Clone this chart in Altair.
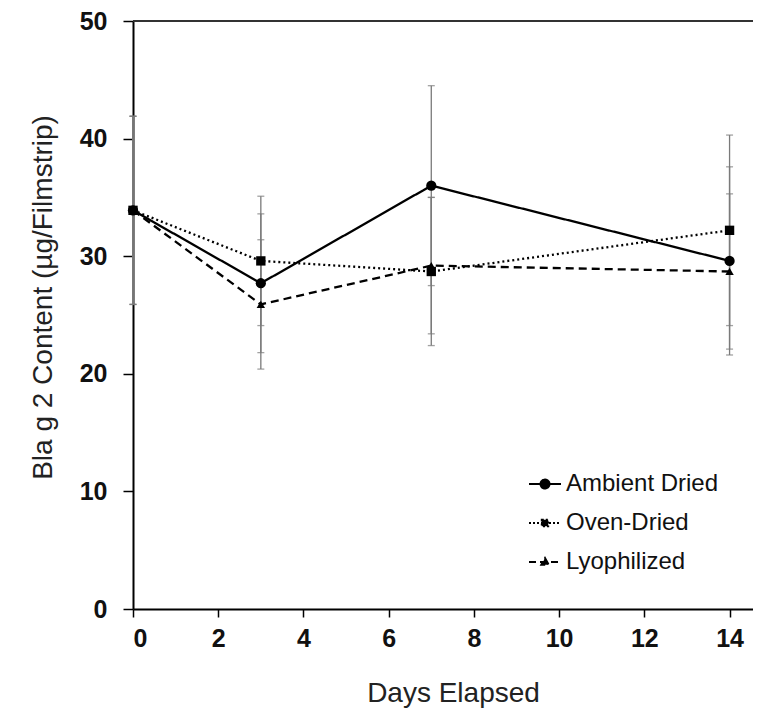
import altair as alt
import pandas as pd

days = [0, 3, 7, 14]
series_names = ["Ambient Dried", "Oven-Dried", "Lyophilized"]
ambient = [33.9, 27.7, 36.0, 29.6]
ambient_err = [8.0, 5.9, 8.5, 8.0]
oven = [33.9, 29.6, 28.7, 32.2]
oven_err = [8.0, 5.5, 6.3, 8.1]
lyo = [33.9, 25.9, 29.2, 28.7]
lyo_err = [8.0, 5.5, 5.8, 6.6]
draw_rank = [3, 1, 2]
x_ticks = [0, 2, 4, 6, 8, 10, 12, 14]
y_ticks = [0, 10, 20, 30, 40, 50]

rows = []
for name, vals, errs, rk in zip(series_names, [ambient, oven, lyo], [ambient_err, oven_err, lyo_err], draw_rank):
    for d, v, e in zip(days, vals, errs):
        rows.append({"Day": d, "Value": v, "Lo": v - e, "Hi": v + e, "Series": name, "Key": name, "Rank": rk})
df = pd.DataFrame(rows)

xscale = alt.Scale(domain=[0, 14.55], nice=False, zero=False)
yscale = alt.Scale(domain=[0, 50], nice=False)

x_axis = alt.Axis(values=x_ticks, title="Days Elapsed", grid=False,
                  labelFont="Liberation Sans", labelFontSize=25, labelFontWeight="bold",
                  labelColor="#111111", labelPadding=9,
                  titleFont="Liberation Sans", titleFontSize=28, titleFontWeight="normal",
                  titleColor="#222222", titleX=320, titleY=84, titleBaseline="middle",
                  tickSize=8, tickColor="#000000", tickWidth=1.5,
                  domainColor="#000000", domainWidth=2)
y_axis = alt.Axis(values=y_ticks, title="Bla g 2 Content (µg/Filmstrip)", grid=False,
                  labelFont="Liberation Sans", labelFontSize=25, labelFontWeight="bold",
                  labelColor="#111111", labelPadding=16,
                  titleFont="Liberation Sans", titleFontSize=28, titleFontWeight="normal",
                  titleColor="#222222", titleX=-90, titleY=276, titleBaseline="middle",
                  tickSize=10, tickColor="#000000", tickWidth=1.5,
                  domainColor="#000000", domainWidth=2)

base = alt.Chart(df)

shape_scale = alt.Scale(domain=series_names, range=["circle", "square", "triangle-up"])
size_scale = alt.Scale(domain=series_names, range=[105, 70, 65])
dash_scale = alt.Scale(domain=series_names, range=[[1, 0], [2, 3], [8, 5]])

errbar = base.mark_rule(color="#7a7a7a", strokeWidth=1.3).encode(
    x=alt.X("Day:Q", scale=xscale, axis=x_axis),
    y=alt.Y("Lo:Q", scale=yscale, axis=y_axis),
    y2="Hi:Q",
)
cap_lo = base.mark_tick(color="#7a7a7a", orient="horizontal", size=7, thickness=1.3).encode(
    x="Day:Q", y="Lo:Q")
cap_hi = base.mark_tick(color="#7a7a7a", orient="horizontal", size=7, thickness=1.3).encode(
    x="Day:Q", y="Hi:Q")

top_rule = alt.Chart(pd.DataFrame({"v": [50]})).mark_rule(color="#333333", strokeWidth=2).encode(
    y=alt.Y("v:Q", scale=yscale))

lines = base.mark_line(color="black", strokeWidth=2.3).encode(
    x="Day:Q", y="Value:Q",
    strokeDash=alt.StrokeDash("Series:N", scale=dash_scale, legend=None),
    detail="Series:N",
)
points = base.mark_point(filled=True, color="black", opacity=1).encode(
    x="Day:Q", y="Value:Q",
    shape=alt.Shape("Series:N", scale=shape_scale, legend=None),
    size=alt.Size("Series:N", scale=size_scale, legend=None),
    order=alt.Order("Rank:Q", sort="ascending"),
)

legend_paths = [
    "M-1,0H1M-0.28,0A0.28,0.28 0 1,1 0.28,0A0.28,0.28 0 1,1 -0.28,0Z",
    "M-1,0H1M-0.2,-0.2H0.2V0.2H-0.2Z",
    "M-1,0H1M0,-0.24L0.23,0.17H-0.23Z",
]
leg = alt.Legend(title=None, orient="none", legendX=395, legendY=446,
                 labelFont="Liberation Sans", labelFontSize=24, labelColor="#111111",
                 labelOffset=4, symbolSize=1024, symbolStrokeWidth=2,
                 symbolOpacity=1, rowPadding=10, padding=0)
legend_layer = base.mark_point(filled=True, fill="black", stroke="black", strokeWidth=2, opacity=0).encode(
    x="Day:Q", y="Value:Q",
    shape=alt.Shape("Key:N", scale=alt.Scale(domain=series_names, range=legend_paths), legend=leg),
    strokeDash=alt.StrokeDash("Key:N", scale=alt.Scale(domain=series_names, range=[[1, 0], [2, 2], [7, 4]]), legend=leg),
)

chart = alt.layer(errbar, cap_lo, cap_hi, top_rule, lines, points, legend_layer).resolve_scale(
    shape="independent", strokeDash="independent", size="independent"
).properties(
    width=620, height=588,
    autosize=alt.AutoSizeParams(type="none"),
    padding={"left": 125, "top": 13, "right": 0, "bottom": 100},
).configure_view(stroke=None)

chart.save("out.html", embed_options={"renderer": "svg", "actions": False})
